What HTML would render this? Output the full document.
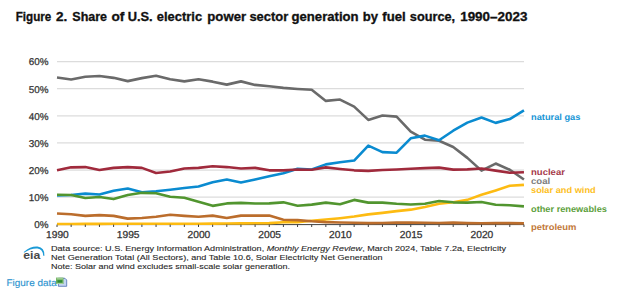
<!DOCTYPE html>
<html><head><meta charset="utf-8"><style>
html,body{margin:0;padding:0;background:#fff;}
body{width:618px;height:294px;overflow:hidden;position:relative;font-family:"Liberation Sans",sans-serif;}
svg{position:absolute;left:0;top:0;}
</style></head><body>
<svg width="618" height="294" viewBox="0 0 618 294">
<g font-family="Liberation Sans" font-weight="bold" font-size="11.9" fill="#111" stroke="#111" stroke-width="0.3" lengthAdjust="spacingAndGlyphs"><text x="15.70" y="20.5" textLength="35.60" lengthAdjust="spacingAndGlyphs">Figure</text><text x="56.10" y="20.5" textLength="11.30" lengthAdjust="spacingAndGlyphs">2.</text><text x="72.30" y="20.5" textLength="34.80" lengthAdjust="spacingAndGlyphs">Share</text><text x="111.50" y="20.5" textLength="12.90" lengthAdjust="spacingAndGlyphs">of</text><text x="127.70" y="20.5" textLength="25.00" lengthAdjust="spacingAndGlyphs">U.S.</text><text x="156.80" y="20.5" textLength="45.30" lengthAdjust="spacingAndGlyphs">electric</text><text x="207.30" y="20.5" textLength="38.80" lengthAdjust="spacingAndGlyphs">power</text><text x="249.40" y="20.5" textLength="38.80" lengthAdjust="spacingAndGlyphs">sector</text><text x="291.50" y="20.5" textLength="67.10" lengthAdjust="spacingAndGlyphs">generation</text><text x="362.70" y="20.5" textLength="15.30" lengthAdjust="spacingAndGlyphs">by</text><text x="382.30" y="20.5" textLength="23.40" lengthAdjust="spacingAndGlyphs">fuel</text><text x="409.80" y="20.5" textLength="45.30" lengthAdjust="spacingAndGlyphs">source,</text><text x="460.20" y="20.5" textLength="67.20" lengthAdjust="spacingAndGlyphs">1990–2023</text></g>
<g stroke="#dcdcdc" stroke-width="1.3"><line x1="57" x2="524" y1="197.18" y2="197.18" /><line x1="57" x2="524" y1="170.06" y2="170.06" /><line x1="57" x2="524" y1="142.94" y2="142.94" /><line x1="57" x2="524" y1="115.82" y2="115.82" /><line x1="57" x2="524" y1="88.70" y2="88.70" /><line x1="57" x2="524" y1="61.58" y2="61.58" /></g>
<g font-family="Liberation Sans" font-size="9.9" fill="#333" stroke="#333" stroke-width="0.25" text-anchor="end" text-rendering="geometricPrecision"><text x="48.6" y="228.10">0%</text><text x="48.6" y="200.98">10%</text><text x="48.6" y="173.86">20%</text><text x="48.6" y="146.74">30%</text><text x="48.6" y="119.62">40%</text><text x="48.6" y="92.50">50%</text><text x="48.6" y="65.38">60%</text></g>
<g fill="none" stroke-width="2.6" stroke-linejoin="round">
<line x1="57" x2="524" y1="224.6" y2="224.6" stroke="#404040" stroke-width="1"/>
<polyline points="57.00,77.58 71.15,79.48 85.30,76.77 99.45,75.95 113.60,77.85 127.75,81.11 141.90,78.12 156.05,75.68 170.20,79.21 184.35,81.38 198.50,79.21 212.65,81.65 226.80,84.63 240.95,81.38 255.10,84.90 269.25,86.26 283.40,87.89 297.55,88.97 311.70,89.78 325.85,100.90 340.00,99.55 354.15,106.60 368.30,119.89 382.45,115.55 396.60,116.63 410.75,131.55 424.90,139.69 439.05,140.77 453.20,147.01 467.35,157.86 481.50,170.60 495.65,163.55 509.80,169.79 523.95,179.55" stroke="#6a6a6a"/>
<polyline points="57.00,195.55 71.15,195.01 85.30,193.65 99.45,194.47 113.60,190.67 127.75,188.50 141.90,192.30 156.05,191.21 170.20,189.72 184.35,187.96 198.50,186.47 212.65,182.26 226.80,179.55 240.95,182.54 255.10,179.55 269.25,176.30 283.40,173.31 297.55,168.70 311.70,169.52 325.85,164.36 340.00,162.20 354.15,160.57 368.30,145.65 382.45,152.16 396.60,152.70 410.75,138.33 424.90,135.62 439.05,140.23 453.20,130.74 467.35,122.60 481.50,117.45 495.65,122.87 509.80,119.07 523.95,110.40" stroke="#0a8bd0"/>
<polyline points="57.00,170.33 71.15,167.35 85.30,167.08 99.45,170.06 113.60,167.89 127.75,167.08 141.90,167.89 156.05,173.04 170.20,171.42 184.35,168.43 198.50,167.89 212.65,166.26 226.80,167.08 240.95,168.43 255.10,167.89 269.25,170.33 283.40,170.33 297.55,169.52 311.70,169.79 325.85,167.35 340.00,168.98 354.15,170.33 368.30,170.87 382.45,170.06 396.60,169.52 410.75,168.70 424.90,168.16 439.05,167.62 453.20,169.65 467.35,169.38 481.50,168.43 495.65,170.60 509.80,172.77 523.95,172.23" stroke="#a02a3c"/>
<polyline points="57.00,224.03 71.15,223.97 85.30,223.92 99.45,223.87 113.60,223.81 127.75,223.76 141.90,223.76 156.05,223.76 170.20,223.76 184.35,223.76 198.50,223.76 212.65,223.62 226.80,223.49 240.95,223.35 255.10,223.22 269.25,223.08 283.40,222.27 297.55,222.27 311.70,220.77 325.85,219.55 340.00,218.20 354.15,216.57 368.30,214.40 382.45,212.91 396.60,211.15 410.75,209.66 424.90,206.94 439.05,203.82 453.20,202.20 467.35,199.89 481.50,194.74 495.65,190.40 509.80,185.79 523.95,184.84" stroke="#fdbb12"/>
<polyline points="57.00,194.74 71.15,195.01 85.30,197.99 99.45,197.04 113.60,199.08 127.75,195.01 141.90,192.84 156.05,193.25 170.20,196.77 184.35,197.72 198.50,201.65 212.65,205.86 226.80,203.42 240.95,202.88 255.10,203.55 269.25,203.42 283.40,202.33 297.55,205.72 311.70,204.64 325.85,202.60 340.00,204.23 354.15,199.89 368.30,202.60 382.45,202.60 396.60,203.82 410.75,204.50 424.90,203.69 439.05,200.98 453.20,202.33 467.35,202.60 481.50,202.06 495.65,204.77 509.80,205.32 523.95,206.40" stroke="#51952f"/>
<polyline points="57.00,213.45 71.15,214.27 85.30,215.89 99.45,215.08 113.60,215.89 127.75,218.60 141.90,218.06 156.05,216.71 170.20,214.81 184.35,215.89 198.50,216.71 212.65,215.62 226.80,217.93 240.95,215.62 255.10,215.62 269.25,215.62 283.40,219.69 297.55,220.10 311.70,221.32 325.85,222.13 340.00,222.54 354.15,222.81 368.30,223.08 382.45,222.94 396.60,222.67 410.75,222.67 424.90,222.81 439.05,222.94 453.20,222.67 467.35,223.08 481.50,223.22 495.65,223.08 509.80,223.08 523.95,223.35" stroke="#bb6d2c"/>
</g>
<g stroke="#404040" stroke-width="1"><line x1="57.00" x2="57.00" y1="224.6" y2="227" /><line x1="71.15" x2="71.15" y1="224.6" y2="227" /><line x1="85.30" x2="85.30" y1="224.6" y2="227" /><line x1="99.45" x2="99.45" y1="224.6" y2="227" /><line x1="113.60" x2="113.60" y1="224.6" y2="227" /><line x1="127.75" x2="127.75" y1="224.6" y2="227" /><line x1="141.90" x2="141.90" y1="224.6" y2="227" /><line x1="156.05" x2="156.05" y1="224.6" y2="227" /><line x1="170.20" x2="170.20" y1="224.6" y2="227" /><line x1="184.35" x2="184.35" y1="224.6" y2="227" /><line x1="198.50" x2="198.50" y1="224.6" y2="227" /><line x1="212.65" x2="212.65" y1="224.6" y2="227" /><line x1="226.80" x2="226.80" y1="224.6" y2="227" /><line x1="240.95" x2="240.95" y1="224.6" y2="227" /><line x1="255.10" x2="255.10" y1="224.6" y2="227" /><line x1="269.25" x2="269.25" y1="224.6" y2="227" /><line x1="283.40" x2="283.40" y1="224.6" y2="227" /><line x1="297.55" x2="297.55" y1="224.6" y2="227" /><line x1="311.70" x2="311.70" y1="224.6" y2="227" /><line x1="325.85" x2="325.85" y1="224.6" y2="227" /><line x1="340.00" x2="340.00" y1="224.6" y2="227" /><line x1="354.15" x2="354.15" y1="224.6" y2="227" /><line x1="368.30" x2="368.30" y1="224.6" y2="227" /><line x1="382.45" x2="382.45" y1="224.6" y2="227" /><line x1="396.60" x2="396.60" y1="224.6" y2="227" /><line x1="410.75" x2="410.75" y1="224.6" y2="227" /><line x1="424.90" x2="424.90" y1="224.6" y2="227" /><line x1="439.05" x2="439.05" y1="224.6" y2="227" /><line x1="453.20" x2="453.20" y1="224.6" y2="227" /><line x1="467.35" x2="467.35" y1="224.6" y2="227" /><line x1="481.50" x2="481.50" y1="224.6" y2="227" /><line x1="495.65" x2="495.65" y1="224.6" y2="227" /><line x1="509.80" x2="509.80" y1="224.6" y2="227" /><line x1="523.95" x2="523.95" y1="224.6" y2="227" /></g>
<g font-family="Liberation Sans" font-size="10.1" fill="#333" stroke="#333" stroke-width="0.25" text-anchor="middle" text-rendering="geometricPrecision"><text x="57.40" y="237.9" textLength="22.8" lengthAdjust="spacingAndGlyphs">1990</text><text x="128.15" y="237.9" textLength="22.8" lengthAdjust="spacingAndGlyphs">1995</text><text x="198.90" y="237.9" textLength="22.8" lengthAdjust="spacingAndGlyphs">2000</text><text x="269.65" y="237.9" textLength="22.8" lengthAdjust="spacingAndGlyphs">2005</text><text x="340.40" y="237.9" textLength="22.8" lengthAdjust="spacingAndGlyphs">2010</text><text x="411.15" y="237.9" textLength="22.8" lengthAdjust="spacingAndGlyphs">2015</text><text x="481.90" y="237.9" textLength="22.8" lengthAdjust="spacingAndGlyphs">2020</text></g>
<g font-family="Liberation Sans" font-weight="bold" font-size="8.8" text-rendering="geometricPrecision">
<text x="531.0" y="120" fill="#1896d6" textLength="49.4" lengthAdjust="spacingAndGlyphs">natural gas</text>
<text x="531.0" y="174.6" fill="#a63a4a" textLength="33.9" lengthAdjust="spacingAndGlyphs">nuclear</text>
<text x="531.0" y="183.7" fill="#7d7d7d" textLength="19.2" lengthAdjust="spacingAndGlyphs">coal</text>
<text x="531.0" y="192.6" fill="#fdbf1f" textLength="64.7" lengthAdjust="spacingAndGlyphs">solar and wind</text>
<text x="531.0" y="211.5" fill="#5d9f3c" textLength="75.9" lengthAdjust="spacingAndGlyphs">other renewables</text>
<text x="531.0" y="230" fill="#c27838" textLength="45.4" lengthAdjust="spacingAndGlyphs">petroleum</text>
</g>
<g font-family="Liberation Sans" font-size="7.6" fill="#262626" stroke="#262626" stroke-width="0.1">
<text x="51" y="251.1" textLength="455" lengthAdjust="spacingAndGlyphs">Data source: U.S. Energy Information Administration, <tspan font-style="italic">Monthly Energy Review</tspan>, March 2024, Table 7.2a, Electricity</text>
<text x="51" y="260.1" textLength="331.5" lengthAdjust="spacingAndGlyphs">Net Generation Total (All Sectors), and Table 10.6, Solar Electricity Net Generation</text>
<text x="51" y="269.4" textLength="239" lengthAdjust="spacingAndGlyphs">Note: Solar and wind excludes small-scale solar generation.</text>
</g>
<text x="23.3" y="259.4" font-family="Liberation Sans" font-weight="bold" font-size="11.7" fill="#484848" textLength="17" lengthAdjust="spacingAndGlyphs">eia</text>
<path d="M23.8,252 Q31,246 37.5,246.6 Q44.8,247.4 44.4,255.8 L43.2,255.8 Q43,249.3 37.5,248.5 Q31,248 24,252.7 Z" fill="#1b9ad6"/>
<text x="6.5" y="285.5" font-family="Liberation Sans" font-size="9.7" fill="#2b93cf" stroke="#2b93cf" stroke-width="0.12" textLength="50.3" lengthAdjust="spacingAndGlyphs" text-rendering="geometricPrecision">Figure data</text>
<path d="M58.4,278.3 L65,278.3 L66.7,280 L66.7,286.3 L58.4,286.3 Z" fill="#c4d6f2" stroke="#4d6fb2" stroke-width="0.8"/>
<rect x="56" y="277.6" width="7.5" height="6.4" fill="#6aae5e"/>
<rect x="56.6" y="278.2" width="6.3" height="1.2" fill="#a9d49a"/>
<rect x="57.5" y="280.2" width="4.6" height="2.6" fill="#2f8a36"/>
<rect x="56.6" y="282.9" width="6.3" height="0.7" fill="#cfe5c4"/>
</svg>
</body></html>
